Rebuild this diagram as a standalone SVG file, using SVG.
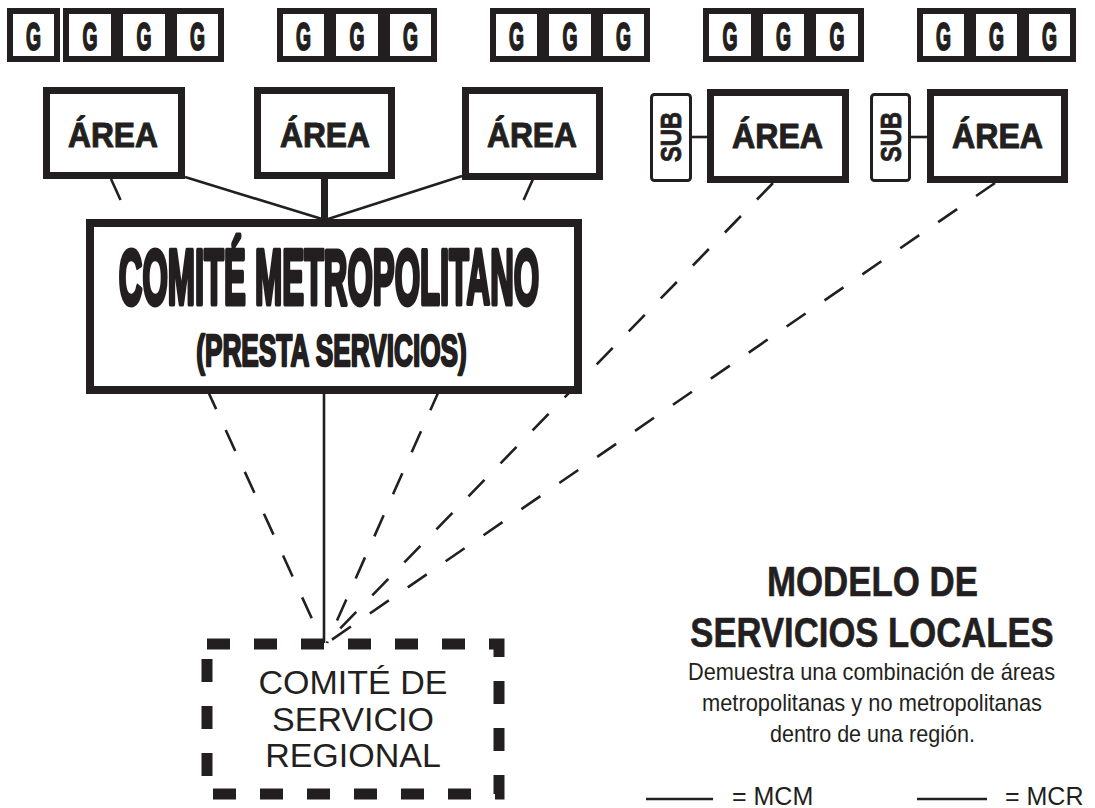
<svg xmlns="http://www.w3.org/2000/svg" width="1095" height="808" viewBox="0 0 1095 808">
<style>
  .bg{fill:#ffffff}
  .gbox{fill:#ffffff;stroke:#231f20;stroke-width:6}
  .abox{fill:#ffffff;stroke:#231f20;stroke-width:7}
  .sbox{fill:#ffffff;stroke:#231f20;stroke-width:3}
  .mbox{fill:#ffffff;stroke:#231f20;stroke-width:8}
  .rbox{fill:none;stroke:#231f20;stroke-width:11;stroke-dasharray:23 24}
  .solid{fill:none;stroke:#231f20;stroke-width:2.6}
  .dash{fill:none;stroke:#231f20;stroke-width:2.6;stroke-dasharray:23 23}
  .t{font-family:"Liberation Sans",Arial,sans-serif;fill:#231f20}
  .b{font-weight:bold}
  .g{font-size:39px;stroke:#231f20;stroke-width:2;stroke-linejoin:round}
  .area{font-size:35px;stroke:#231f20;stroke-width:1;stroke-linejoin:round}
  .sub{font-size:29px;stroke:#231f20;stroke-width:0.8;stroke-linejoin:round}
  .mt{font-size:77px;stroke:#231f20;stroke-width:5;stroke-linejoin:round}
  .ps{font-size:45px;stroke:#231f20;stroke-width:2.5;stroke-linejoin:round}
  .reg{font-size:34px}
  .title{font-size:42px;stroke:#231f20;stroke-width:0.6;stroke-linejoin:round}
  .desc{font-size:24px}
  .leg{font-size:25px}
</style>
<rect class="bg" x="0" y="0" width="1095" height="808"/>

<g id="connectors">
  <line class="solid" x1="185" y1="177" x2="322" y2="219"/>
  <line class="solid" x1="462" y1="176" x2="328" y2="219"/>
  <line class="solid" x1="324.5" y1="179" x2="324.5" y2="219" style="stroke-width:7"/>
  <line class="solid" x1="324" y1="394" x2="324" y2="643"/>
  <line class="dash" x1="111" y1="179" x2="323" y2="643"/>
  <line class="dash" x1="533" y1="179" x2="327" y2="643"/>
  <line class="dash" x1="773" y1="183" x2="326" y2="643"/>
  <line class="dash" x1="995" y1="183" x2="327" y2="643"/>
  <line class="solid" x1="692" y1="137" x2="707" y2="137"/>
  <line class="solid" x1="911" y1="137" x2="927" y2="137"/>
</g>

<g id="g-group-1">
  <rect class="gbox" x="10" y="11" width="47" height="48"/>
  <rect class="gbox" x="66" y="11" width="48" height="48"/>
  <rect class="gbox" x="120" y="11" width="48" height="48"/>
  <rect class="gbox" x="174" y="11" width="47" height="48"/>
  <text class="t b g" x="26" y="49.5" textLength="15" lengthAdjust="spacingAndGlyphs">G</text>
  <text class="t b g" x="82.5" y="49.5" textLength="15" lengthAdjust="spacingAndGlyphs">G</text>
  <text class="t b g" x="136.5" y="49.5" textLength="15" lengthAdjust="spacingAndGlyphs">G</text>
  <text class="t b g" x="190" y="49.5" textLength="15" lengthAdjust="spacingAndGlyphs">G</text>
</g>
<g id="g-group-2">
  <rect class="gbox" x="280" y="11" width="47" height="48"/>
  <rect class="gbox" x="333" y="11" width="48" height="48"/>
  <rect class="gbox" x="387" y="11" width="47" height="48"/>
  <text class="t b g" x="296" y="49.5" textLength="15" lengthAdjust="spacingAndGlyphs">G</text>
  <text class="t b g" x="349.5" y="49.5" textLength="15" lengthAdjust="spacingAndGlyphs">G</text>
  <text class="t b g" x="403" y="49.5" textLength="15" lengthAdjust="spacingAndGlyphs">G</text>
</g>
<g id="g-group-3">
  <rect class="gbox" x="493" y="11" width="47" height="48"/>
  <rect class="gbox" x="546" y="11" width="48" height="48"/>
  <rect class="gbox" x="600" y="11" width="47" height="48"/>
  <text class="t b g" x="509" y="49.5" textLength="15" lengthAdjust="spacingAndGlyphs">G</text>
  <text class="t b g" x="562.5" y="49.5" textLength="15" lengthAdjust="spacingAndGlyphs">G</text>
  <text class="t b g" x="616" y="49.5" textLength="15" lengthAdjust="spacingAndGlyphs">G</text>
</g>
<g id="g-group-4">
  <rect class="gbox" x="706" y="11" width="48" height="48"/>
  <rect class="gbox" x="760" y="11" width="47" height="48"/>
  <rect class="gbox" x="813" y="11" width="48" height="48"/>
  <text class="t b g" x="722.5" y="49.5" textLength="15" lengthAdjust="spacingAndGlyphs">G</text>
  <text class="t b g" x="776" y="49.5" textLength="15" lengthAdjust="spacingAndGlyphs">G</text>
  <text class="t b g" x="829.5" y="49.5" textLength="15" lengthAdjust="spacingAndGlyphs">G</text>
</g>
<g id="g-group-5">
  <rect class="gbox" x="920" y="11" width="47" height="48"/>
  <rect class="gbox" x="973" y="11" width="47" height="48"/>
  <rect class="gbox" x="1026" y="11" width="47" height="48"/>
  <text class="t b g" x="936" y="49.5" textLength="15" lengthAdjust="spacingAndGlyphs">G</text>
  <text class="t b g" x="989" y="49.5" textLength="15" lengthAdjust="spacingAndGlyphs">G</text>
  <text class="t b g" x="1042" y="49.5" textLength="15" lengthAdjust="spacingAndGlyphs">G</text>
</g>

<g id="area-1">
  <rect class="abox" x="46.5" y="90.5" width="135" height="85"/>
  <text class="t b area" x="68" y="147" textLength="90" lengthAdjust="spacingAndGlyphs">ÁREA</text>
</g>
<g id="area-2">
  <rect class="abox" x="257.5" y="90.5" width="134" height="85"/>
  <text class="t b area" x="280" y="147" textLength="90" lengthAdjust="spacingAndGlyphs">ÁREA</text>
</g>
<g id="area-3">
  <rect class="abox" x="465.5" y="90.5" width="134" height="86"/>
  <text class="t b area" x="487" y="147" textLength="90" lengthAdjust="spacingAndGlyphs">ÁREA</text>
</g>
<g id="sub-1">
  <rect class="sbox" x="651.5" y="94.5" width="39" height="86" rx="3"/>
  <text class="t b sub" transform="translate(681,137) rotate(-90)" x="-25" y="0" textLength="50" lengthAdjust="spacingAndGlyphs">SUB</text>
</g>
<g id="area-4">
  <rect class="abox" x="710.5" y="92.5" width="135" height="87"/>
  <text class="t b area" x="732" y="148" textLength="91" lengthAdjust="spacingAndGlyphs">ÁREA</text>
</g>
<g id="sub-2">
  <rect class="sbox" x="871.5" y="94.5" width="38" height="86" rx="3"/>
  <text class="t b sub" transform="translate(900.5,137) rotate(-90)" x="-25" y="0" textLength="50" lengthAdjust="spacingAndGlyphs">SUB</text>
</g>
<g id="area-5">
  <rect class="abox" x="930.5" y="92.5" width="134" height="87"/>
  <text class="t b area" x="952" y="148" textLength="91" lengthAdjust="spacingAndGlyphs">ÁREA</text>
</g>

<g id="comite-metropolitano">
  <rect class="mbox" x="90" y="223" width="488" height="167"/>
  <text class="t b mt" transform="translate(329,304) scale(0.4243,1)" x="0" y="0" text-anchor="middle">COMITÉ METROPOLITANO</text>
  <text class="t b ps" transform="translate(331.5,366) scale(0.583,1)" x="0" y="0" text-anchor="middle">(PRESTA SERVICIOS)</text>
</g>

<g id="comite-regional">
  <rect class="rbox" x="207" y="644" width="292" height="150"/>
  <text class="t reg" x="353" y="694" text-anchor="middle">COMITÉ DE</text>
  <text class="t reg" x="353" y="730.5" text-anchor="middle">SERVICIO</text>
  <text class="t reg" x="353" y="767" text-anchor="middle">REGIONAL</text>
</g>

<g id="title">
  <text class="t b title" transform="translate(872.5,596) scale(0.83,1)" x="0" y="0" text-anchor="middle">MODELO DE</text>
  <text class="t b title" transform="translate(872,647) scale(0.825,1)" x="0" y="0" text-anchor="middle">SERVICIOS LOCALES</text>
  <text class="t desc" x="688" y="680" textLength="367" lengthAdjust="spacingAndGlyphs">Demuestra una combinación de áreas</text>
  <text class="t desc" x="702" y="711" textLength="340" lengthAdjust="spacingAndGlyphs">metropolitanas y no metropolitanas</text>
  <text class="t desc" x="770" y="742" textLength="205" lengthAdjust="spacingAndGlyphs">dentro de una región.</text>
</g>

<g id="legend">
  <line class="solid" x1="646" y1="799" x2="713" y2="799"/>
  <text class="t leg" x="732" y="805">= MCM</text>
  <line class="solid" x1="917" y1="799" x2="987" y2="799"/>
  <text class="t leg" x="1005" y="805">= MCR</text>
</g>
</svg>
